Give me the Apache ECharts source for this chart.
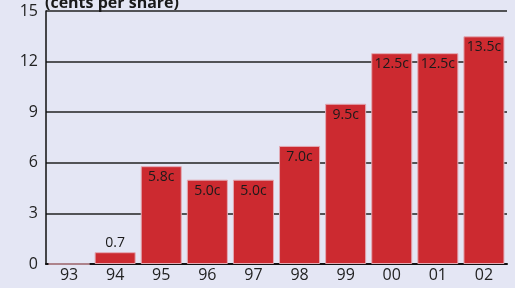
<!DOCTYPE html>
<html>
<head>
<meta charset="utf-8">
<script src="https://cdn.jsdelivr.net/npm/echarts@6/dist/echarts.min.js"></script>
<style>
html, body { margin: 0; padding: 0; background: #e4e6f4; }
#chart { width: 515px; height: 288px; }
</style>
</head>
<body>
<div id="chart"></div>
<script>
var years = ['93', '94', '95', '96', '97', '98', '99', '00', '01', '02'];
var dividends = [0, 0.7, 5.8, 5.0, 5.0, 7.0, 9.5, 12.5, 12.5, 13.5];
var barLabels = ['', '0.7', '5.8c', '5.0c', '5.0c', '7.0c', '9.5c', '12.5c', '12.5c', '13.5c'];

var myChart = echarts.init(document.getElementById('chart'));
var option = {
    backgroundColor: '#e4e6f4',
    animation: false,
    title: {
        text: '(cents per share)',
        left: 40,
        top: -10,
        textStyle: { fontFamily: 'Open Sans', fontWeight: 'bold', fontSize: 16, color: '#1a1a1a' }
    },
    grid: { left: 46, right: 8, top: 11, bottom: 24 },
    xAxis: {
        type: 'category',
        data: years,
        axisLine: { lineStyle: { color: '#111', width: 2 } },
        axisTick: { show: false },
        axisLabel: { fontFamily: 'Open Sans', fontSize: 16, color: '#222', margin: 3 }
    },
    yAxis: {
        type: 'value',
        min: 0,
        max: 15,
        interval: 3,
        axisLine: { show: true, lineStyle: { color: '#111', width: 1.5 } },
        axisTick: { show: false },
        axisLabel: { fontFamily: 'Open Sans', fontSize: 16, color: '#222', margin: 8 },
        splitLine: { lineStyle: { color: '#222', width: 1.5 } }
    },
    series: [{
        type: 'bar',
        data: dividends.map(function (v, i) {
            return {
                value: v,
                label: {
                    position: i === 1 ? 'top' : 'insideTop',
                    distance: i === 1 ? 2 : 4
                }
            };
        }),
        barCategoryGap: '11%',
        itemStyle: {
            color: '#cc2a30',
            borderColor: '#e2aab4',
            borderWidth: 1
        },
        label: {
            show: true,
            fontFamily: 'Open Sans',
            fontSize: 14,
            color: '#1a1a1a',
            formatter: function (p) { return barLabels[p.dataIndex]; }
        }
    }]
};
myChart.setOption(option);
</script>
</body>
</html>
